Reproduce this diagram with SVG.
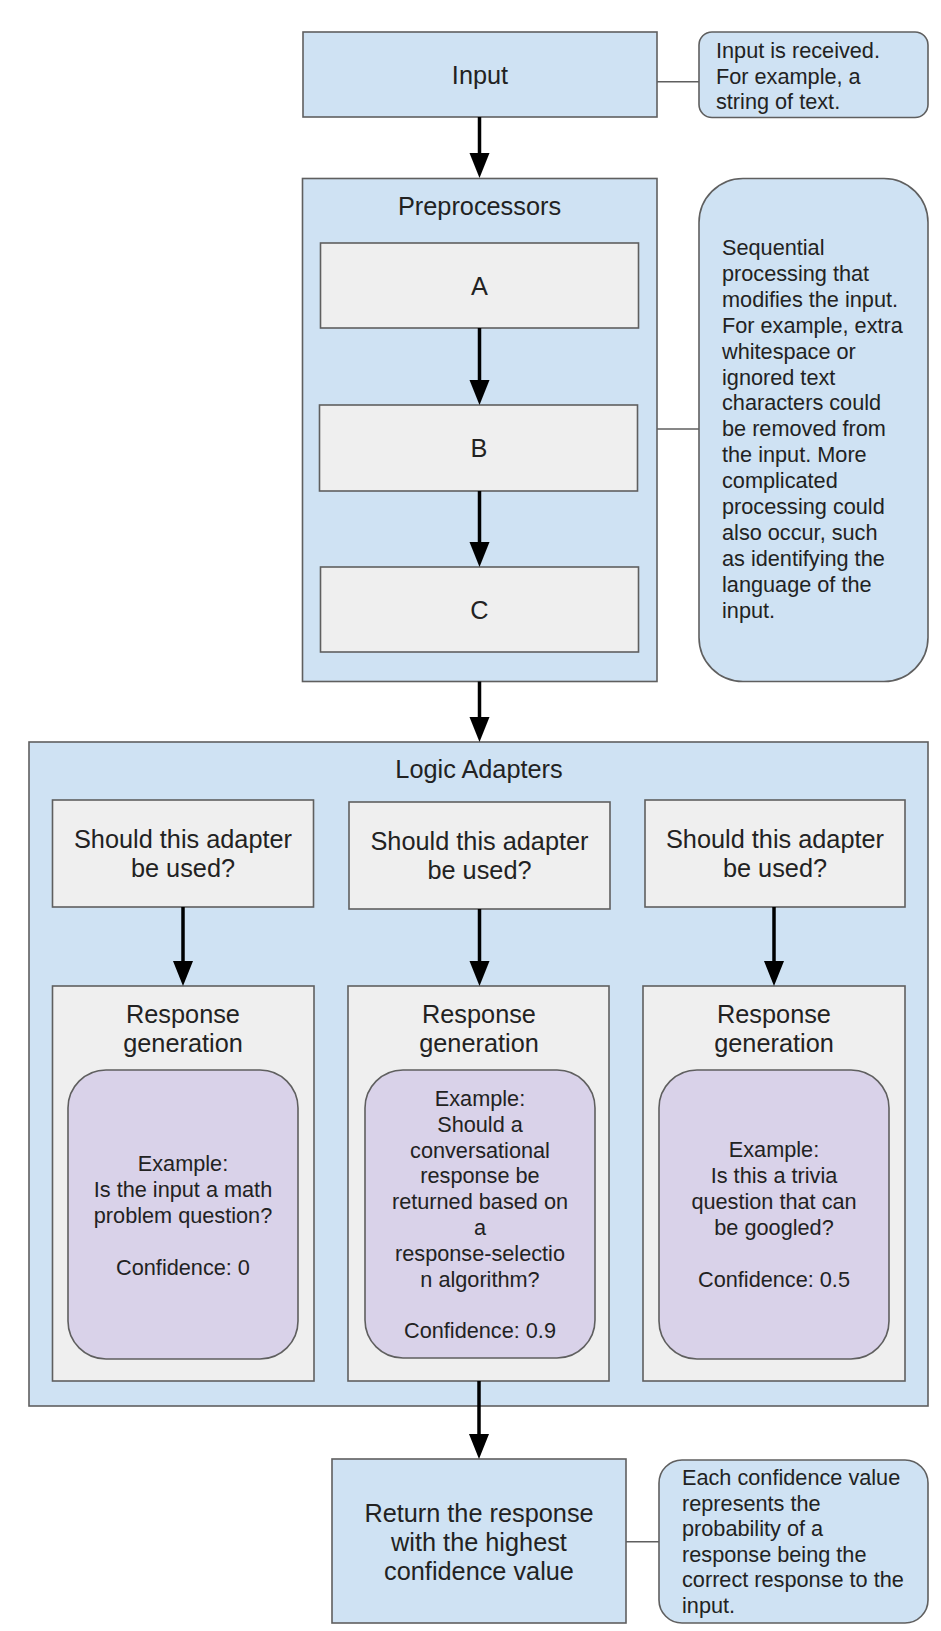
<svg xmlns="http://www.w3.org/2000/svg" width="941" height="1631" viewBox="0 0 941 1631">
  <style>
    .blue { fill: #cfe2f3; stroke: #5f5f5f; stroke-width: 1.6; }
    .gray { fill: #efefef; stroke: #5f5f5f; stroke-width: 1.6; }
    .purple { fill: #d9d2e9; stroke: #5f5f5f; stroke-width: 1.6; }
    .lbl { font-family: "Liberation Sans", Arial, sans-serif; font-size: 25.3px; fill: #222; text-anchor: middle; }
    .small { font-family: "Liberation Sans", Arial, sans-serif; font-size: 21.7px; fill: #222; }
    .mid { text-anchor: middle; }
    .flow { stroke: #000; stroke-width: 3.5; fill: none; }
    .tie { stroke: #5f5f5f; stroke-width: 1.6; fill: none; }
    .head { fill: #000; }
  </style>
  <rect width="941" height="1631" fill="#ffffff"/>

  <!-- input -->
  <g id="input">
    <rect class="blue" x="303" y="32" width="354" height="85"/>
    <text class="lbl" x="480" y="84">Input</text>
  </g>
  <g id="input-note">
    <rect class="blue" x="699" y="32" width="229" height="85.5" rx="13"/>
    <text class="small" x="716" y="57.7">Input is received.</text>
    <text class="small" x="716" y="83.5">For example, a</text>
    <text class="small" x="716" y="109.3">string of text.</text>
  </g>

  <!-- preprocessors -->
  <g id="preprocessors">
    <rect class="blue" x="302.5" y="178.5" width="354.5" height="503"/>
    <text class="lbl" x="479.5" y="215">Preprocessors</text>
  </g>
  <g id="pre-a">
    <rect class="gray" x="320.5" y="243" width="318" height="85"/>
    <text class="lbl" x="479.5" y="295">A</text>
  </g>
  <g id="pre-b">
    <rect class="gray" x="319.5" y="405" width="318" height="86"/>
    <text class="lbl" x="479" y="457">B</text>
  </g>
  <g id="pre-c">
    <rect class="gray" x="320.5" y="567" width="318" height="85"/>
    <text class="lbl" x="479.5" y="619">C</text>
  </g>
  <g id="pre-note">
    <rect class="blue" x="699" y="178.5" width="229" height="503" rx="44"/>
    <text class="small" x="722">
      <tspan x="722" y="255">Sequential</tspan>
      <tspan x="722" y="280.9">processing that</tspan>
      <tspan x="722" y="306.8">modifies the input.</tspan>
      <tspan x="722" y="332.7">For example, extra</tspan>
      <tspan x="722" y="358.6">whitespace or</tspan>
      <tspan x="722" y="384.5">ignored text</tspan>
      <tspan x="722" y="410.4">characters could</tspan>
      <tspan x="722" y="436.3">be removed from</tspan>
      <tspan x="722" y="462.2">the input. More</tspan>
      <tspan x="722" y="488.1">complicated</tspan>
      <tspan x="722" y="514">processing could</tspan>
      <tspan x="722" y="539.9">also occur, such</tspan>
      <tspan x="722" y="565.8">as identifying the</tspan>
      <tspan x="722" y="591.7">language of the</tspan>
      <tspan x="722" y="617.6">input.</tspan>
    </text>
  </g>

  <!-- logic adapters -->
  <g id="logic-adapters">
    <rect class="blue" x="29" y="742" width="899" height="664"/>
    <text class="lbl" x="479" y="778">Logic Adapters</text>
  </g>

  <g id="check-1">
    <rect class="gray" x="52.5" y="800" width="261" height="107"/>
    <text class="lbl" x="183" y="848">Should this adapter</text>
    <text class="lbl" x="183" y="877">be used?</text>
  </g>
  <g id="check-2">
    <rect class="gray" x="349" y="802" width="261" height="107"/>
    <text class="lbl" x="479.5" y="850">Should this adapter</text>
    <text class="lbl" x="479.5" y="879">be used?</text>
  </g>
  <g id="check-3">
    <rect class="gray" x="645" y="800" width="260" height="107"/>
    <text class="lbl" x="775" y="848">Should this adapter</text>
    <text class="lbl" x="775" y="877">be used?</text>
  </g>

  <g id="response-1">
    <rect class="gray" x="52.5" y="986" width="261.5" height="395"/>
    <text class="lbl" x="183" y="1023">Response</text>
    <text class="lbl" x="183" y="1052">generation</text>
    <rect class="purple" x="68" y="1070" width="230" height="289" rx="38"/>
    <text class="small mid" x="183" y="1170.7">Example:</text>
    <text class="small mid" x="183" y="1196.7">Is the input a math</text>
    <text class="small mid" x="183" y="1222.7">problem question?</text>
    <text class="small mid" x="183" y="1274.7">Confidence: 0</text>
  </g>
  <g id="response-2">
    <rect class="gray" x="348" y="986" width="261" height="395"/>
    <text class="lbl" x="479" y="1023">Response</text>
    <text class="lbl" x="479" y="1052">generation</text>
    <rect class="purple" x="365" y="1070" width="230" height="288" rx="38"/>
    <text class="small mid" x="480" y="1106">Example:</text>
    <text class="small mid" x="480" y="1131.8">Should a</text>
    <text class="small mid" x="480" y="1157.6">conversational</text>
    <text class="small mid" x="480" y="1183.4">response be</text>
    <text class="small mid" x="480" y="1209.2">returned based on</text>
    <text class="small mid" x="480" y="1235">a</text>
    <text class="small mid" x="480" y="1260.8">response-selectio</text>
    <text class="small mid" x="480" y="1286.6">n algorithm?</text>
    <text class="small mid" x="480" y="1338.2">Confidence: 0.9</text>
  </g>
  <g id="response-3">
    <rect class="gray" x="643" y="986" width="262" height="395"/>
    <text class="lbl" x="774" y="1023">Response</text>
    <text class="lbl" x="774" y="1052">generation</text>
    <rect class="purple" x="659" y="1070" width="230" height="289" rx="38"/>
    <text class="small mid" x="774" y="1157">Example:</text>
    <text class="small mid" x="774" y="1183">Is this a trivia</text>
    <text class="small mid" x="774" y="1209">question that can</text>
    <text class="small mid" x="774" y="1235">be googled?</text>
    <text class="small mid" x="774" y="1287">Confidence: 0.5</text>
  </g>

  <!-- result -->
  <g id="return">
    <rect class="blue" x="332" y="1459" width="294" height="164"/>
    <text class="lbl" x="479" y="1521.7">Return the response</text>
    <text class="lbl" x="479" y="1550.8">with the highest</text>
    <text class="lbl" x="479" y="1579.9">confidence value</text>
  </g>
  <g id="return-note">
    <rect class="blue" x="659" y="1460" width="269" height="163" rx="23"/>
    <text class="small" x="682" y="1485">Each confidence value</text>
    <text class="small" x="682" y="1510.6">represents the</text>
    <text class="small" x="682" y="1536.2">probability of a</text>
    <text class="small" x="682" y="1561.8">response being the</text>
    <text class="small" x="682" y="1587.4">correct response to the</text>
    <text class="small" x="682" y="1613">input.</text>
  </g>

  <!-- connectors -->
  <g id="connectors">
    <line class="tie" x1="657" y1="81.7" x2="699" y2="81.7"/>
    <line class="tie" x1="657" y1="429" x2="699" y2="429"/>
    <line class="tie" x1="626" y1="1541.7" x2="659" y2="1541.7"/>

    <line class="flow" x1="479.5" y1="117" x2="479.5" y2="156"/>
    <polygon class="head" points="469.5,153 489.5,153 479.5,178"/>

    <line class="flow" x1="479.5" y1="328" x2="479.5" y2="383"/>
    <polygon class="head" points="469.5,380 489.5,380 479.5,405"/>

    <line class="flow" x1="479.5" y1="491" x2="479.5" y2="545"/>
    <polygon class="head" points="469.5,542 489.5,542 479.5,567"/>

    <line class="flow" x1="479.5" y1="681.5" x2="479.5" y2="720"/>
    <polygon class="head" points="469.5,717 489.5,717 479.5,742"/>

    <line class="flow" x1="183" y1="907" x2="183" y2="964"/>
    <polygon class="head" points="173,961 193,961 183,986"/>

    <line class="flow" x1="479.5" y1="909" x2="479.5" y2="964"/>
    <polygon class="head" points="469.5,961 489.5,961 479.5,986"/>

    <line class="flow" x1="774" y1="907" x2="774" y2="964"/>
    <polygon class="head" points="764,961 784,961 774,986"/>

    <line class="flow" x1="479" y1="1381" x2="479" y2="1437"/>
    <polygon class="head" points="469,1434 489,1434 479,1459"/>
  </g>
</svg>
